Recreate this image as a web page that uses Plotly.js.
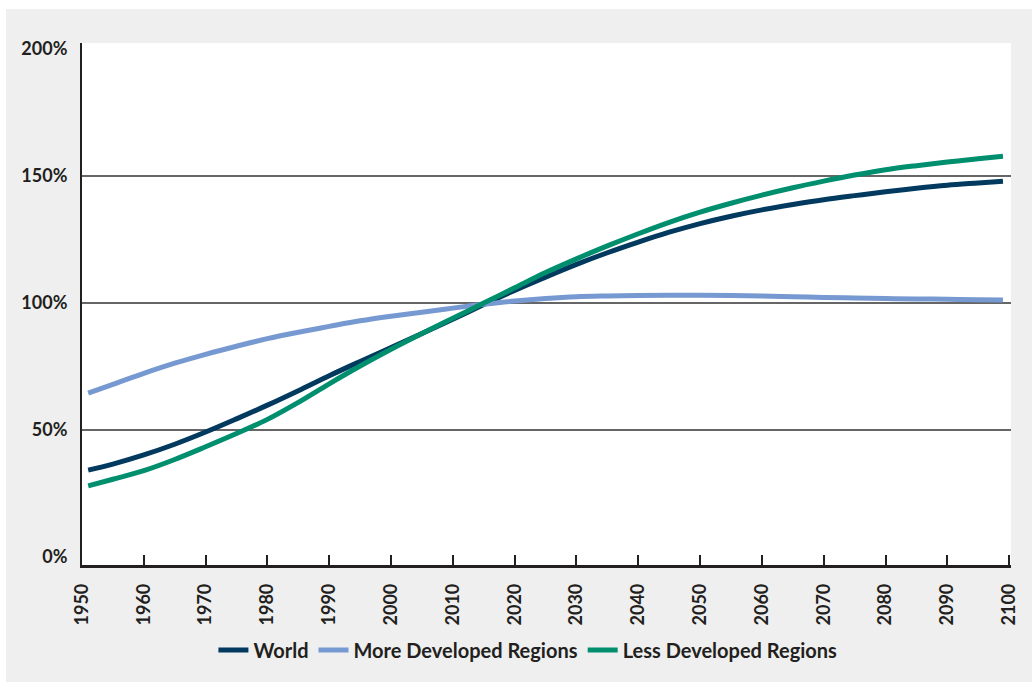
<!DOCTYPE html>
<html>
<head>
<meta charset="utf-8">
<script src="https://cdn.plot.ly/plotly-3.0.1.min.js"></script>
<style>
  html, body { margin: 0; padding: 0; background: #ffffff; width: 1032px; height: 682px; overflow: hidden; }
  #chart { position: absolute; left: 6px; top: 9px; width: 1026px; height: 673px; }
</style>
</head>
<body>
<div id="chart"></div>
<script>
const years = [1951, 1955, 1960, 1965, 1970, 1975, 1980, 1985, 1990, 1995, 2000, 2005, 2010, 2015, 2020,
               2025, 2030, 2035, 2040, 2045, 2050, 2055, 2060, 2065, 2070, 2075, 2080, 2085, 2090, 2095, 2099];

const world = [34.2, 36.6, 40.2, 44.4, 49.2, 54.4, 59.8, 65.5, 71.4, 77, 82.5, 88, 93.6, 99.4, 105,
               110.2, 115.2, 119.8, 124, 127.9, 131.3, 134.2, 136.7, 138.8, 140.7, 142.3, 143.8, 145.2, 146.4, 147.3, 148];

const moreDeveloped = [64.5, 68, 72.3, 76.3, 79.8, 83, 86, 88.5, 90.8, 93, 94.8, 96.4, 98, 99.5, 100.8,
                       101.8, 102.5, 102.8, 103, 103.1, 103.1, 103, 102.8, 102.5, 102.2, 102, 101.8, 101.6, 101.5, 101.3, 101.2];

const lessDeveloped = [28, 30.6, 34.0, 38.4, 43.4, 48.6, 54.2, 60.9, 68.2, 75.2, 81.8, 88, 94, 100, 106,
                       112, 117.4, 122.5, 127.3, 131.8, 135.8, 139.3, 142.5, 145.4, 148, 150.4, 152.5, 154.1, 155.5, 156.8, 157.8];

const seriesNames = ['World', 'More Developed Regions', 'Less Developed Regions'];
const seriesColors = ['#013a5e', '#7799d1', '#008f6e'];
const xTicks = [1950, 1960, 1970, 1980, 1990, 2000, 2010, 2020, 2030, 2040, 2050, 2060, 2070, 2080, 2090, 2100];
const yTicks = [0, 50, 100, 150, 200];
const yTickLabels = ['0%', '50%', '100%', '150%', '200%'];
const gridValues = [50, 100, 150];

const seriesValues = [world, moreDeveloped, lessDeveloped];
const traces = seriesValues.map((vals, i) => ({
  x: years,
  y: vals,
  name: seriesNames[i],
  type: 'scatter',
  mode: 'lines',
  line: { color: seriesColors[i], width: 5, shape: 'spline', smoothing: 1.0 },
  hoverinfo: 'x+y+name'
}));

const fontFamily = 'Lato, "Noto Sans", sans-serif';
const textColor = '#231f20';

const layout = {
  width: 1026,
  height: 673,
  paper_bgcolor: '#efefef',
  plot_bgcolor: '#ffffff',
  margin: { l: 76, r: 21, t: 34, b: 117, pad: 0, autoexpand: false },
  showlegend: true,
  legend: {
    orientation: 'h',
    x: 0.48, xanchor: 'center', xref: 'paper',
    y: -0.163, yanchor: 'middle',
    font: { family: fontFamily, size: 20, color: textColor, weight: 'bold' },
    bgcolor: 'rgba(0,0,0,0)',
    itemwidth: 30,
    traceorder: 'normal'
  },
  xaxis: {
    range: [1950, 2100.3],
    tickmode: 'array',
    tickvals: xTicks,
    ticktext: xTicks.map(String),
    tickangle: -90,
    ticks: 'inside',
    ticklen: 10,
    tickwidth: 2,
    tickcolor: textColor,
    showline: true,
    linecolor: textColor,
    linewidth: 2.5,
    showgrid: false,
    zeroline: false,
    ticklabelstandoff: 9,
    automargin: false,
    tickfont: { family: fontFamily, size: 18, color: textColor, weight: 'bold' },
    fixedrange: true
  },
  yaxis: {
    range: [-3.15, 202.4],
    tickmode: 'array',
    tickvals: yTicks,
    ticktext: yTickLabels,
    ticks: '',
    ticklen: 0,
    showline: true,
    linecolor: textColor,
    linewidth: 2,
    showgrid: false,
    zeroline: false,
    ticklabelstandoff: 9,
    automargin: false,
    tickfont: { family: fontFamily, size: 18, color: textColor, weight: 'bold' },
    fixedrange: true
  },
  shapes: gridValues.map(v => ({
    type: 'line', xref: 'paper', yref: 'y',
    x0: 0, x1: 1, y0: v, y1: v,
    layer: 'below',
    line: { color: '#333333', width: 1.6 }
  }))
};

Plotly.newPlot('chart', traces, layout, { displayModeBar: false, staticPlot: true });
</script>
</body>
</html>
